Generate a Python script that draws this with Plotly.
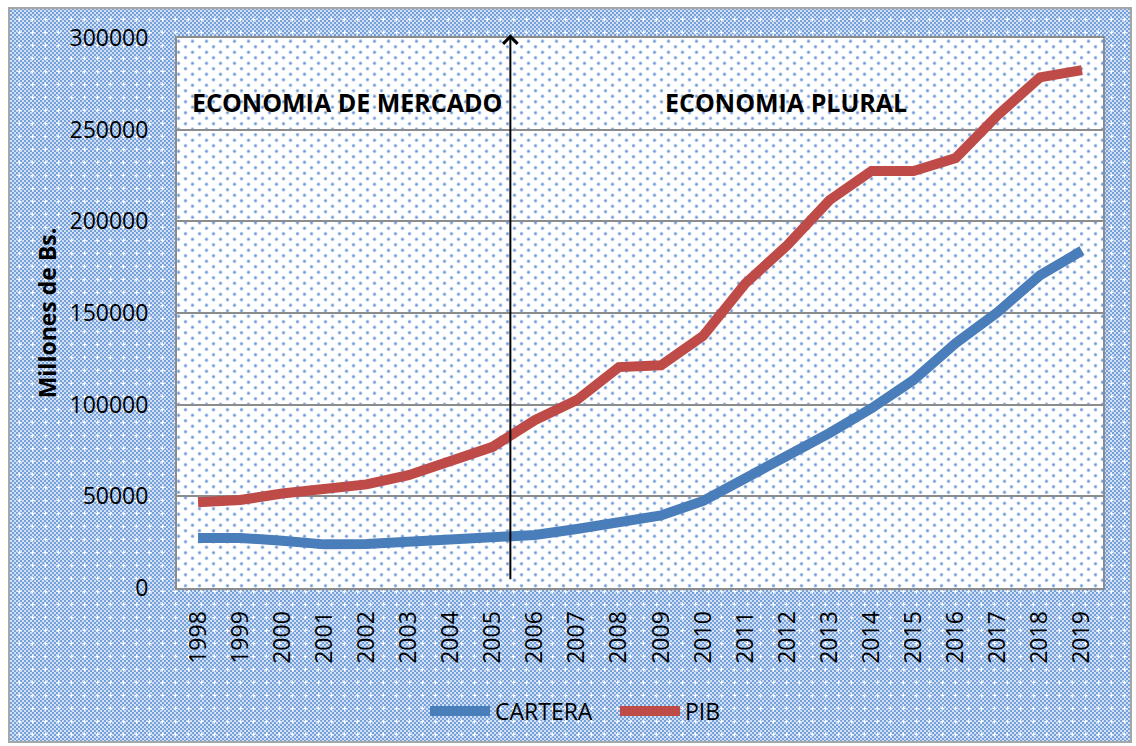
import base64
import plotly.graph_objects as go

# ---- data ----
years = [str(y) for y in range(1998, 2020)]
cartera = [27300, 27300, 25800, 23800, 24000, 25000, 25700, 26800, 28900, 32200,
           35600, 39600, 47500, 59500, 71500, 84500, 98000, 113500, 133500, 150500,
           170500, 184000]
pib = [46800, 48000, 51500, 53600, 56500, 61500, 69500, 77000, 91500, 102500,
       120500, 121500, 137500, 166000, 187000, 211500, 227500, 227500, 234500, 258000,
       278500, 282500]
y_ticks = [0, 50000, 100000, 150000, 200000, 250000, 300000]
arrow_x = 7.42          # category position between 2005 and 2006
arrow_y = [4000, 302000]
labels = ["ECONOMIA DE MERCADO", "ECONOMIA PLURAL"]

W, H = 1136, 746
ML, MR, MT, MB = 177, 33, 38, 158
PW, PH = W - ML - MR, H - MT - MB

FONT = "Open Sans"

# ---- background texture (style only) ----
svg = f'''<svg xmlns="http://www.w3.org/2000/svg" width="{W}" height="{H}" viewBox="0 0 {W} {H}" preserveAspectRatio="none">
<defs>
<pattern id="chk" width="4" height="4" patternUnits="userSpaceOnUse">
<rect width="4" height="4" fill="#d2e0f3"/>
<rect x="0" y="0" width="2" height="2" fill="#76a0d9"/>
<rect x="2" y="2" width="2" height="2" fill="#76a0d9"/>
</pattern>
<pattern id="spk" width="13" height="13" patternUnits="userSpaceOnUse">
<rect x="4.5" y="6" width="4" height="1" fill="#ffffff"/>
<rect x="6" y="4.5" width="1" height="4" fill="#ffffff"/>
<circle cx="6.5" cy="6.5" r="1.1" fill="#ffffff"/>
</pattern>
<pattern id="dots" width="14" height="11" patternUnits="userSpaceOnUse">
<rect width="14" height="11" fill="#ffffff"/>
<circle cx="3.5" cy="2.75" r="1.9" fill="#b9cfee"/>
<circle cx="3.5" cy="2.75" r="1.1" fill="#6a96d6"/>
<circle cx="10.5" cy="8.25" r="1.9" fill="#b9cfee"/>
<circle cx="10.5" cy="8.25" r="1.1" fill="#6a96d6"/>
</pattern>
</defs>
<rect width="{W}" height="{H}" fill="#ffffff"/>
<rect x="9" y="8" width="{W-14}" height="{H-12}" fill="url(#chk)"/>
<rect x="9" y="8" width="{W-14}" height="{H-12}" fill="url(#spk)" stroke="#a6a6a6" stroke-width="2"/>
<rect x="{ML}" y="{MT}" width="{PW}" height="{PH}" fill="url(#dots)"/>
</svg>'''
src = "data:image/svg+xml;base64," + base64.b64encode(svg.encode()).decode()

fig = go.Figure()
fig.add_trace(go.Scatter(x=years, y=cartera, name="CARTERA", mode="lines",
                         line=dict(color="#4a7ebb", width=10)))
fig.add_trace(go.Scatter(x=years, y=pib, name="PIB", mode="lines",
                         line=dict(color="#be4b48", width=10)))

fig.add_layout_image(dict(source=src, xref="paper", yref="paper",
                          x=-ML / PW, y=1 + MT / PH, sizex=W / PW, sizey=H / PH,
                          xanchor="left", yanchor="top", sizing="stretch", layer="below"))

fig.add_annotation(x=arrow_x, y=arrow_y[1], xref="x", yref="y",
                   ax=arrow_x, ay=arrow_y[0], axref="x", ayref="y",
                   showarrow=True, arrowhead=4, arrowsize=1.4, arrowwidth=2,
                   arrowcolor="#000000", text="")
fig.add_annotation(x=(190 - ML) / PW, y=0.884, xref="paper", yref="paper",
                   xanchor="left", yanchor="middle", showarrow=False,
                   text="<b>" + labels[0] + "</b>",
                   font=dict(family=FONT, size=25, color="#000000"))
fig.add_annotation(x=(663 - ML) / PW, y=0.884, xref="paper", yref="paper",
                   xanchor="left", yanchor="middle", showarrow=False,
                   text="<b>" + labels[1] + "</b>",
                   font=dict(family=FONT, size=25, color="#000000"))

fig.update_layout(
    width=W, height=H,
    margin=dict(l=ML, r=MR, t=MT, b=MB, autoexpand=False),
    paper_bgcolor="#ffffff",
    plot_bgcolor="rgba(0,0,0,0)",
    font=dict(family=FONT, size=23, color="#000000"),
    showlegend=True,
    legend=dict(orientation="h", x=0.473, xanchor="center", y=(MT + PH - 711) / PH,
                yanchor="middle", bgcolor="rgba(0,0,0,0)",
                font=dict(family=FONT, size=23, color="#000000"),
                itemwidth=60, entrywidth=115),
)
fig.update_xaxes(type="category", range=[-0.5, len(years) - 0.5], tickangle=-90,
                 showgrid=False,
                 showline=True, linecolor="#8c8c8c", linewidth=2, mirror=True,
                 ticks="", ticklabelstandoff=12,
                 tickfont=dict(family=FONT, size=23))
fig.update_yaxes(range=[0, 300000], tickvals=y_ticks, tickformat="d",
                 showgrid=True, gridcolor="#8c8c8c", gridwidth=2,
                 showline=True, linecolor="#8c8c8c", linewidth=2, mirror=True,
                 zeroline=False, ticks="", ticklabelstandoff=22,
                 tickfont=dict(family=FONT, size=23),
                 title=dict(text="<b>Millones de Bs.</b>", standoff=6,
                            font=dict(family=FONT, size=23)))

fig.write_html("out.html", config={"displayModeBar": False},
               post_script="document.body.style.margin='0';")
